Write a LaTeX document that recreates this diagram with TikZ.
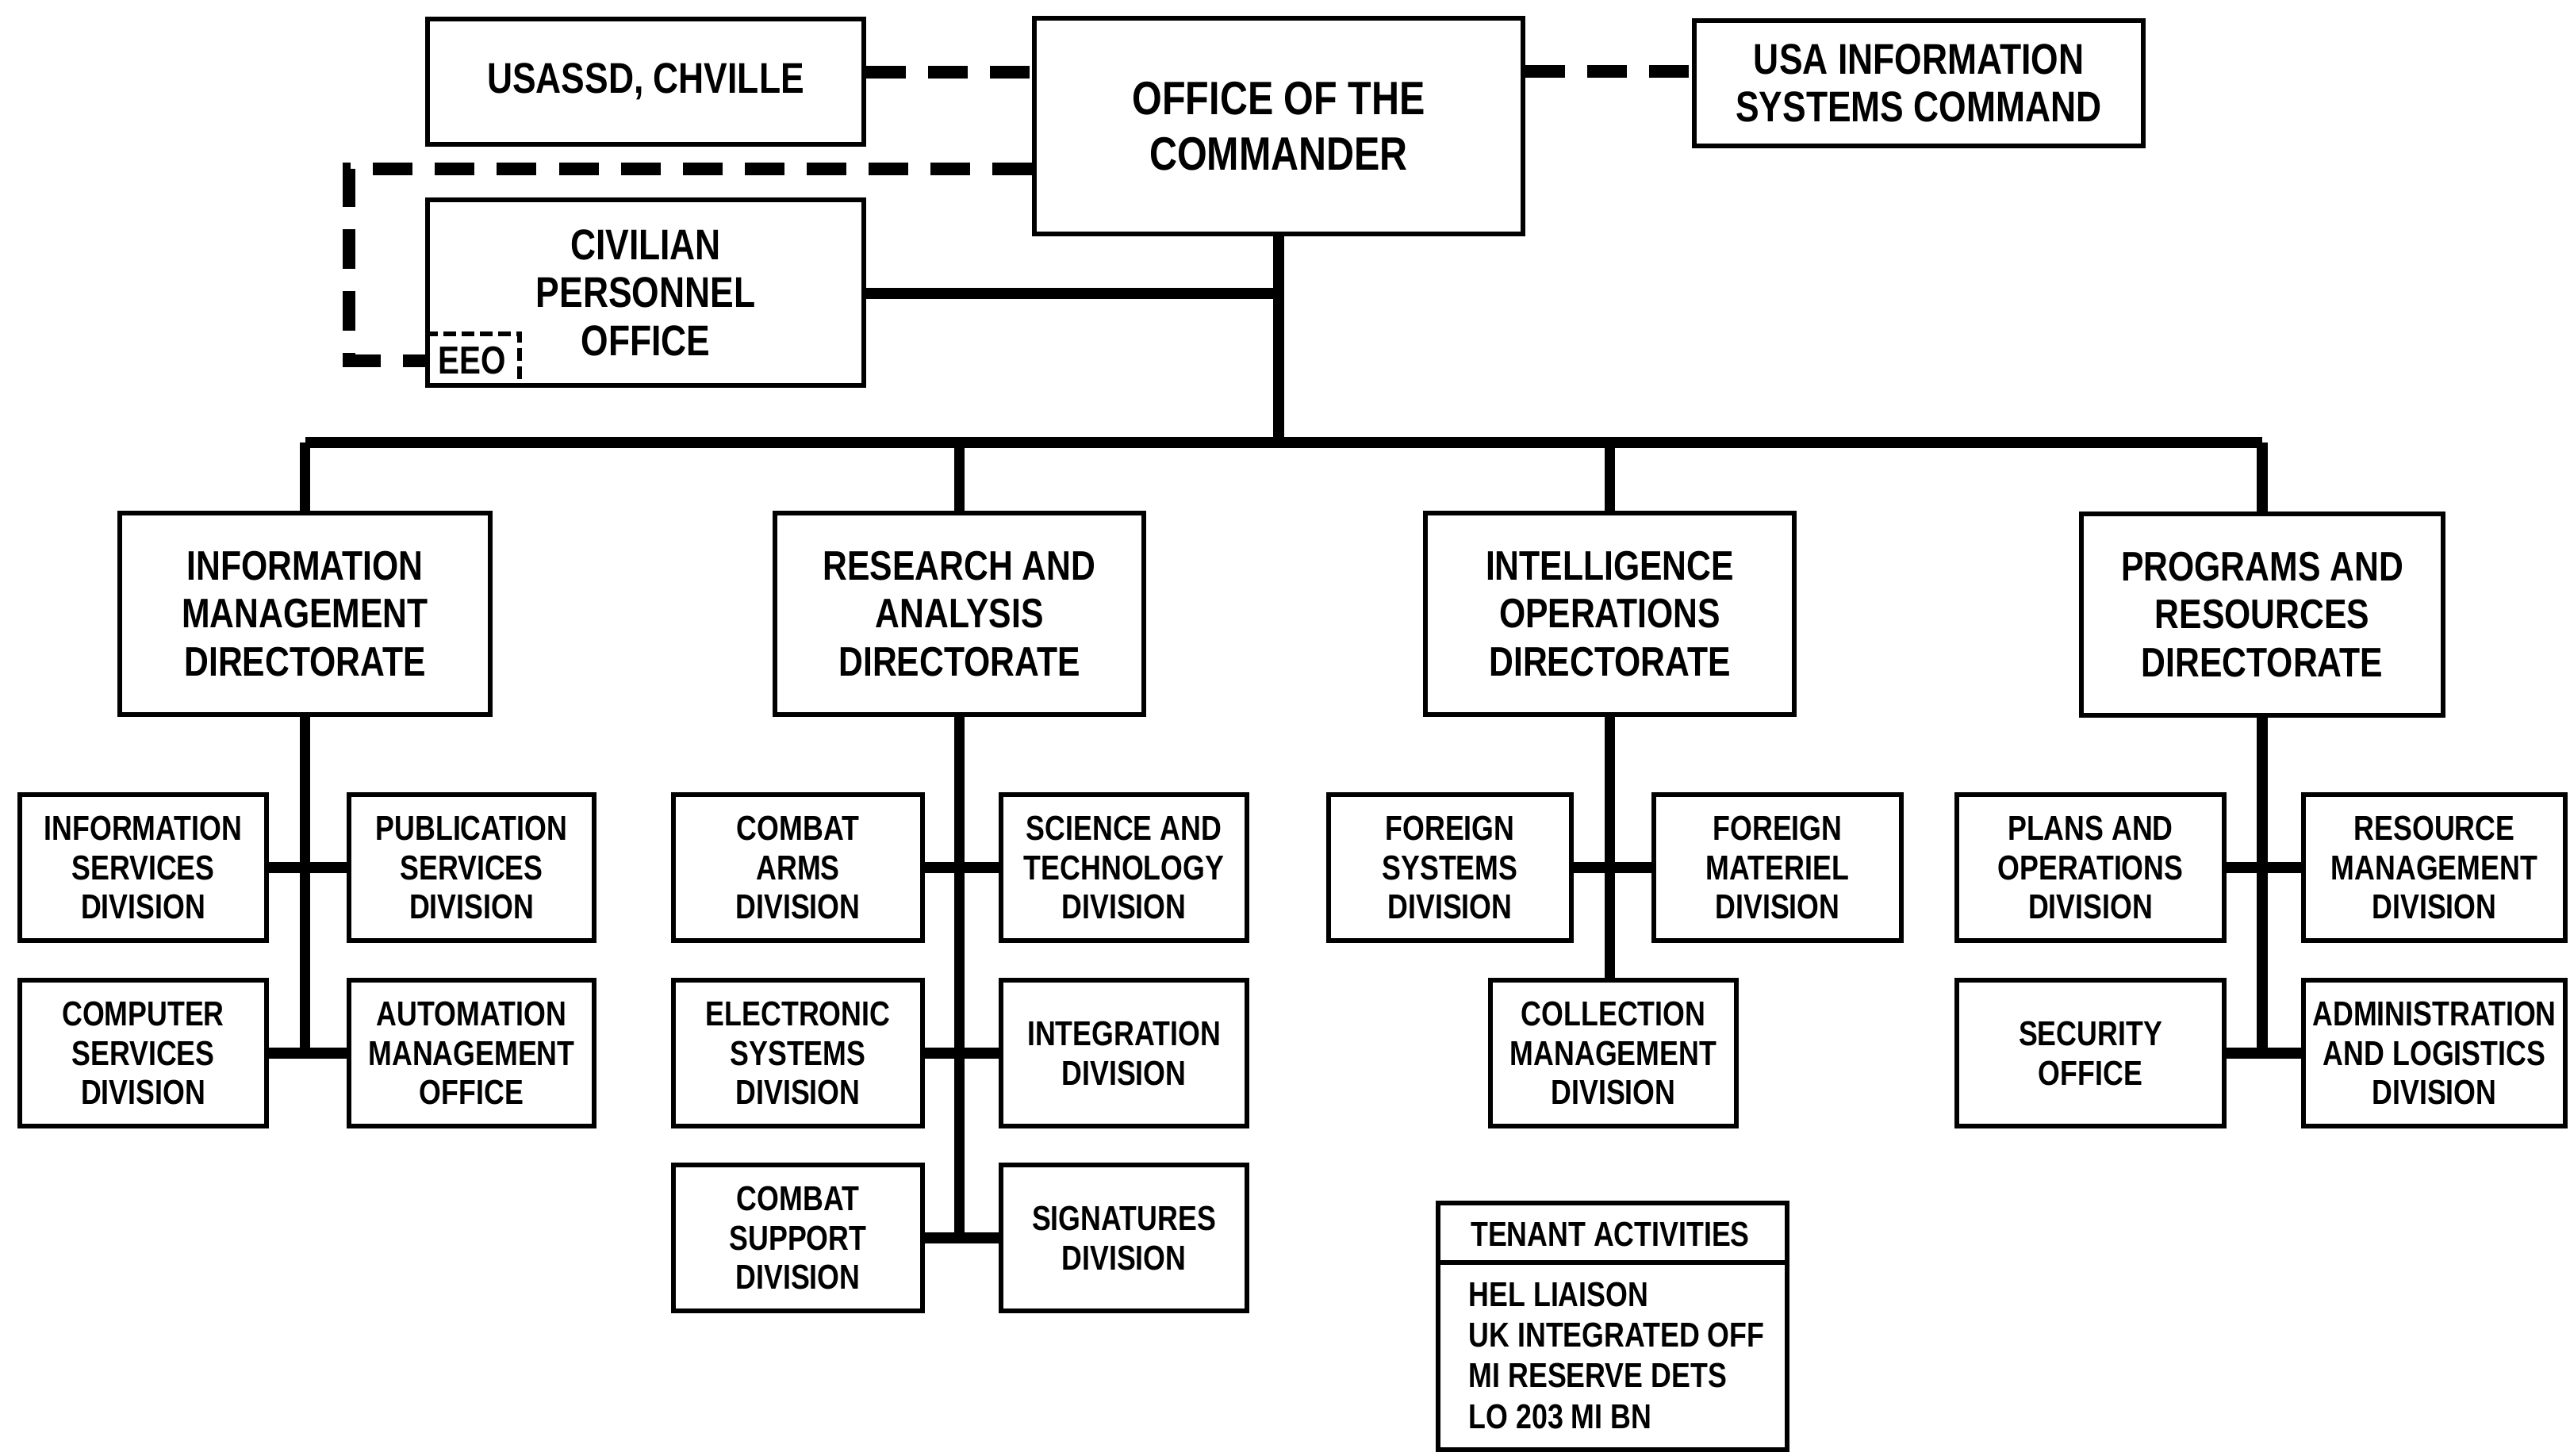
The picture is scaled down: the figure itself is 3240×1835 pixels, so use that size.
\documentclass[tikz,border=0pt]{standalone}
\usepackage{fontspec}
\newfontfamily\chartfont{Liberation Sans}[FakeStretch=0.82]
\begin{document}
\begin{tikzpicture}[x=0.01cm,y=-0.01cm,
  box/.style={draw, line width=1.7pt, align=center, inner sep=0pt},
  cmdfont/.style={font=\chartfont\bfseries\fontsize{16.8}{19.9}\selectfont},
  topfont/.style={font=\chartfont\bfseries\fontsize{15.4}{17.2}\selectfont},
  dirbox/.style={box, minimum height=2.54cm, font=\chartfont\bfseries\fontsize{14.8}{17.3}\selectfont},
  divbox/.style={box, minimum height=1.84cm, font=\chartfont\bfseries\fontsize{12.4}{14.2}\selectfont},
  smallfont/.style={font=\chartfont\bfseries\fontsize{12.4}{14.6}\selectfont},
  conn/.style={line width=3.8pt},
  dashline/.style={line width=4.4pt, dash pattern=on 0.5cm off 0.28cm},
  eeoline/.style={line width=1.7pt, dash pattern=on 0.16cm off 0.07cm}]
\useasboundingbox (0,0) rectangle (3240,1835);

% top level
\node[box, cmdfont, minimum width=6.16cm, minimum height=2.72cm] (cmd) at (1612,159) {OFFICE OF THE\\COMMANDER};
\node[box, topfont, minimum width=5.50cm, minimum height=1.57cm] (usassd) at (814,103) {USASSD, CHVILLE};
\node[box, topfont, minimum width=5.65cm, minimum height=1.57cm] (isc) at (2419,105) {USA INFORMATION\\SYSTEMS COMMAND};
\node[box, topfont, minimum width=5.50cm, minimum height=2.34cm] (cpo) at (814,369) {CIVILIAN\\PERSONNEL\\OFFICE};
\node[inner sep=0pt, minimum width=1.18cm, minimum height=0.67cm, anchor=south west,
      font=\chartfont\bfseries\fontsize{14}{15}\selectfont] (eeo) at (cpo.south west) {EEO};
\draw[eeoline] (eeo.north west) -- (eeo.north east) -- (eeo.south east);

% dashed links
\draw[dashline] (usassd.east |- 0,91) -- (cmd.west |- 0,91);
\draw[dashline] (cmd.east |- 0,90) -- (isc.west |- 0,90);
\coordinate (dl) at (440,213);
\draw[dashline] (cmd.west |- dl) -- (dl) -- (dl |- eeo.west) -- (eeo.west);

% directorates
\node[dirbox, minimum width=4.67cm] (imd) at (384.5,774) {INFORMATION\\MANAGEMENT\\DIRECTORATE};
\node[dirbox, minimum width=4.65cm] (rad) at (1209.5,774) {RESEARCH AND\\ANALYSIS\\DIRECTORATE};
\node[dirbox, minimum width=4.65cm] (iod) at (2029.5,774) {INTELLIGENCE\\OPERATIONS\\DIRECTORATE};
\node[dirbox, minimum width=4.56cm] (prd) at (2852,775) {PROGRAMS AND\\RESOURCES\\DIRECTORATE};

% main trunk and bus
\coordinate (bus) at (1610,558);
\draw[conn] (cmd.south) -- (cmd.south |- bus);
\draw[conn] (cpo.east |- 0,370) -- (cmd.south |- 0,370);
\draw[conn] (imd.north |- bus) -- (prd.north |- bus);
\draw[conn] (imd.north |- bus) -- (imd.north);
\draw[conn] (rad.north |- bus) -- (rad.north);
\draw[conn] (iod.north |- bus) -- (iod.north);
\draw[conn] (prd.north |- bus) -- (prd.north);

% IMD divisions
\node[divbox, minimum width=3.11cm] (isd) at (180.5,1094) {INFORMATION\\SERVICES\\DIVISION};
\node[divbox, minimum width=3.09cm] (psd) at (594.5,1094) {PUBLICATION\\SERVICES\\DIVISION};
\node[divbox, minimum width=3.11cm] (csd) at (180.5,1328) {COMPUTER\\SERVICES\\DIVISION};
\node[divbox, minimum width=3.09cm] (amo) at (594.5,1328) {AUTOMATION\\MANAGEMENT\\OFFICE};
\draw[conn] (imd.south) -- (imd.south |- csd.east);
\draw[conn] (isd.east) -- (psd.west);
\draw[conn] (csd.east) -- (amo.west);

% RAD divisions
\node[divbox, minimum width=3.14cm] (cad) at (1006,1094) {COMBAT\\ARMS\\DIVISION};
\node[divbox, minimum width=3.10cm] (std) at (1417,1094) {SCIENCE AND\\TECHNOLOGY\\DIVISION};
\node[divbox, minimum width=3.14cm] (esd) at (1006,1328) {ELECTRONIC\\SYSTEMS\\DIVISION};
\node[divbox, minimum width=3.10cm] (intd) at (1417,1328) {INTEGRATION\\DIVISION};
\node[divbox, minimum width=3.14cm] (csupd) at (1006,1561) {COMBAT\\SUPPORT\\DIVISION};
\node[divbox, minimum width=3.10cm] (sigd) at (1417,1561) {SIGNATURES\\DIVISION};
\draw[conn] (rad.south) -- (rad.south |- csupd.east);
\draw[conn] (cad.east) -- (std.west);
\draw[conn] (esd.east) -- (intd.west);
\draw[conn] (csupd.east) -- (sigd.west);

% IOD divisions
\node[divbox, minimum width=3.06cm] (fsd) at (1828,1094) {FOREIGN\\SYSTEMS\\DIVISION};
\node[divbox, minimum width=3.12cm] (fmd) at (2241,1094) {FOREIGN\\MATERIEL\\DIVISION};
\node[divbox, minimum width=3.10cm] (cmgd) at (2034,1328) {COLLECTION\\MANAGEMENT\\DIVISION};
\draw[conn] (iod.south) -- (iod.south |- cmgd.north);
\draw[conn] (fsd.east) -- (fmd.west);

% tenant activities
\node[box, minimum width=4.40cm, minimum height=3.11cm] (ten) at (2033,1672.5) {};
\draw[line width=1.7pt] (ten.west |- 0,1592) -- (ten.east |- 0,1592);
\node[smallfont, inner sep=0pt] (tenh) at (2030,1556) {TENANT ACTIVITIES};
\node[smallfont, inner sep=0pt, anchor=west, align=left] (tenl) at (1851,1709) {HEL LIAISON\\UK INTEGRATED OFF\\MI RESERVE DETS\\LO 203 MI BN};

% PRD divisions
\node[divbox, minimum width=3.37cm] (pod) at (2635.5,1094) {PLANS AND\\OPERATIONS\\DIVISION};
\node[divbox, minimum width=3.30cm] (rmd) at (3069,1094) {RESOURCE\\MANAGEMENT\\DIVISION};
\node[divbox, minimum width=3.37cm] (seco) at (2635.5,1328) {SECURITY\\OFFICE};
\node[divbox, minimum width=3.30cm] (ald) at (3069,1328) {ADMINISTRATION\\AND LOGISTICS\\DIVISION};
\draw[conn] (prd.south) -- (prd.south |- ald.west);
\draw[conn] (pod.east) -- (rmd.west);
\draw[conn] (seco.east) -- (ald.west);
\end{tikzpicture}
\end{document}
